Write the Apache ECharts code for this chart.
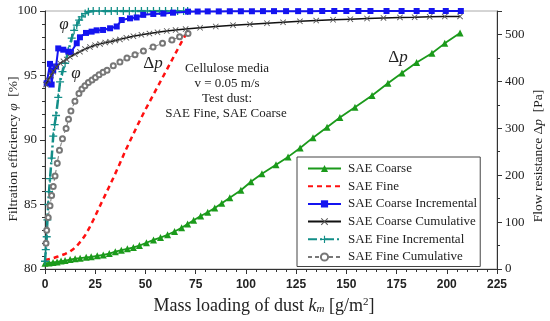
<!DOCTYPE html>
<html><head><meta charset="utf-8">
<script src="https://cdn.jsdelivr.net/npm/echarts@6/dist/echarts.min.js"></script>
<style>html,body{margin:0;padding:0;background:#fff}#c{width:550px;height:321px}</style>
</head><body><div id="c"></div>
<script>
// ---- data (k in g/m2) ----
const legendNames = ['SAE Coarse','SAE Fine','SAE Coarse Incremental','SAE Coarse Cumulative','SAE Fine Incremental','SAE Fine Cumulative'];
const xTickValues = [0,25,50,75,100,125,150,175,200,225];
const leftTickValues = [80,85,90,95,100];
const rightTickValues = [0,100,200,300,400,500];

// SAE Coarse: flow resistance Δp [Pa]
const coarseDp = [[0,12],[2,13],[4,14],[6,15],[8,17],[10,18],[12.5,20],[15,22],[17.5,23],[20.5,25],[23,26],[26,28],[29,30],[32,33],[35,37],[38,40],[41,43],[44,46],[47,50],[50.5,56],[54,62],[57.5,67],[61,73],[64.5,80],[68,88],[71,96],[74,104],[77.5,113],[81,121],[84.5,130],[88,140],[92,152],[97.5,168],[102.5,186],[108,203],[115,222],[121,239],[127,258],[133.4,280],[140.4,302],[146.8,323],[154.3,345],[162.8,370],[170.7,396],[177.7,418],[185,440],[192.6,460],[199,481],[206.6,503]];
// SAE Fine: flow resistance Δp [Pa]
const fineDp = [[0,19],[2,21],[4,23],[6,26],[8,29],[10,32],[12,36],[14,42],[16,50],[18,60],[20,72],[22,87],[24,104],[26,122],[28,140],[30,158],[32,176],[34,194],[36,213],[38,232],[40,252],[42,270],[44,288],[46,306],[48,323],[50,340],[52,356],[54,372],[56,388],[58,404],[60,420],[62,436],[64,452],[66,468],[68,484],[70,499],[71.3,506]];
// SAE Coarse incremental efficiency [%]
const coarseInc = [[0.85,94.4],[2.5,95.9],[3.3,94.3],[4.1,95.4],[5.5,95.7],[6.6,97.1],[9.1,97.0],[11.6,96.85],[12.9,96.8],[15.8,97.5],[17.4,97.96],[20.4,98.3],[23.2,98.4],[25.7,98.5],[28.9,98.53],[32.4,98.66],[35.7,98.8],[38.2,99.3],[42.3,99.43],[45.6,99.5],[48.9,99.7],[53.9,99.77],[58.9,99.8],[63.7,99.87],[71.2,99.95],[76,99.96],[81,99.97],[86.5,99.97],[92,99.98],[97.5,99.98],[103,99.98],[108.5,99.99],[114,99.99],[120,99.99],[126,99.99],[132,99.99],[138,100],[144,100],[150,100],[156,100],[162,100],[170,100],[177.5,100],[185,100],[192.5,100],[199.5,100],[207,100]];
// SAE Coarse cumulative efficiency [%]
const coarseCum = [[0.5,94.3],[1.6,94.65],[3,95.0],[4.1,95.3],[5.8,95.65],[7.5,95.95],[9.2,96.1],[10.8,96.25],[12.4,96.45],[14.9,96.65],[17.4,96.85],[19.9,97.05],[22.4,97.2],[24.9,97.35],[27.4,97.45],[30,97.55],[32.4,97.62],[35,97.72],[37.3,97.8],[40.5,97.92],[44,98.05],[48,98.15],[52,98.25],[56,98.35],[60.6,98.45],[65,98.52],[70,98.6],[77.2,98.7],[85,98.8],[93.6,98.9],[102,98.97],[110.5,99.05],[118.5,99.12],[126.9,99.2],[135,99.26],[143.4,99.32],[152,99.37],[160.3,99.42],[168.5,99.46],[176.7,99.5],[184,99.52],[191.5,99.55],[199,99.57],[206.6,99.58]];
// SAE Fine incremental efficiency [%]
const fineInc = [[0,80.6],[0.4,81.5],[0.85,82.5],[1.2,83.8],[1.6,85.0],[2.0,86.0],[2.5,87.0],[3.3,88.6],[4.1,90.3],[4.8,91.2],[5.5,91.9],[6.6,93.3],[7.5,94.5],[8.7,95.3],[10,95.95],[11.6,96.9],[13.3,97.9],[14.5,98.5],[15.8,98.9],[17,99.3],[18.3,99.55],[20,99.8],[21.6,99.95],[24,100],[27,100],[30,100],[33,100],[36,100],[39,100],[42,100],[45,100],[48,100],[51,100],[54,100],[57,100],[60,100],[63,100],[66,100],[69,100],[71,100]];
// SAE Fine cumulative efficiency [%]
const fineCum = [[0.5,82.0],[0.85,83.0],[1.6,84.0],[2.5,84.9],[3.3,85.7],[4.1,86.4],[5.0,87.2],[6.1,88.2],[7.2,89.2],[8.7,90.1],[10.5,90.9],[11.7,91.6],[12.9,92.25],[14.9,93.0],[16.9,93.6],[18.4,93.95],[19.9,94.2],[21.6,94.45],[23.4,94.65],[25.1,94.85],[26.9,95.05],[28.9,95.25],[30.9,95.4],[34,95.75],[37.3,96.05],[40.8,96.35],[44.8,96.6],[49,96.9],[53.8,97.2],[58.5,97.5],[63.2,97.75],[67,98.0],[71.2,98.25]];

const SERIF = '"Liberation Serif", "Times New Roman", serif';
const SANS = '"Liberation Sans", Arial, sans-serif';
const X_SYM = 'path://M0,1L1,0L5,4L9,0L10,1L6,5L10,9L9,10L5,6L1,10L0,9L4,5Z';
const PLUS_SYM = 'path://M4.2,0H5.8V4.2H10V5.8H5.8V10H4.2V5.8H0V4.2H4.2Z';

const chart = echarts.init(document.getElementById('c'), null, {renderer:'canvas'});
const axisCommon = {
  axisLine:{show:true, lineStyle:{color:'#333', width:1}},
  axisTick:{show:true, length:5, lineStyle:{color:'#333'}},
  splitLine:{show:false}
};
chart.setOption({
  animation:false,
  backgroundColor:'#fff',
  grid:{left:45, right:53, top:11, bottom:52, show:true, borderColor:'#aaa', borderWidth:1},
  xAxis:Object.assign({type:'value', min:xTickValues[0], max:xTickValues[xTickValues.length-1], interval:25,
    axisLabel:{fontFamily:SANS, fontWeight:'bold', fontSize:12, color:'#222', margin:10}}, axisCommon,
    {minorTick:{show:true, splitNumber:5, length:3, lineStyle:{color:'#333'}}}),
  yAxis:[
    Object.assign({type:'value', min:leftTickValues[0], max:leftTickValues[leftTickValues.length-1], interval:5,
      axisLabel:{fontFamily:SERIF, fontSize:13, color:'#222', margin:8}}, axisCommon,
      {minorTick:{show:true, splitNumber:5, length:3, lineStyle:{color:'#333'}}}),
    Object.assign({type:'value', position:'right', min:0, max:550, interval:100,
      axisLabel:{fontFamily:SERIF, fontSize:13, color:'#222', margin:8, formatter:v => rightTickValues.indexOf(v) >= 0 ? String(v) : ''}}, axisCommon,
      {minorTick:{show:true, splitNumber:2, length:3, lineStyle:{color:'#333'}}})
  ],
  legend:{
    orient:'vertical', left:297, top:157, data:legendNames,
    itemWidth:33, itemHeight:9, itemGap:4.7,
    padding:[5,3,3,10],
    borderColor:'#444', borderWidth:1, backgroundColor:'#fff',
    textStyle:{fontFamily:SERIF, fontSize:13, color:'#222', padding:[0,0,0,2]}
  },
  series:[
    {name:legendNames[0], type:'line', yAxisIndex:1, data:coarseDp, symbol:'triangle', symbolSize:7,
      lineStyle:{color:'#1b9a1b', width:1.8}, itemStyle:{color:'#1b9a1b'}, z:2},
    {name:legendNames[1], type:'line', yAxisIndex:1, data:fineDp, symbol:'circle', showSymbol:false, symbolSize:0,
      lineStyle:{color:'#ff1010', width:2.5, type:[5,4]}, itemStyle:{color:'rgba(0,0,0,0)'}, z:2},
    {name:legendNames[2], type:'line', yAxisIndex:0, data:coarseInc, symbol:'rect', symbolSize:6,
      lineStyle:{color:'#1414f0', width:2}, itemStyle:{color:'#1414f0'}, z:4},
    {name:legendNames[3], type:'line', yAxisIndex:0, data:coarseCum, symbol:X_SYM, symbolSize:6,
      lineStyle:{color:'#111', width:1.5}, itemStyle:{color:'#555'}, z:5},
    {name:legendNames[4], type:'line', yAxisIndex:0, data:fineInc, symbol:PLUS_SYM, symbolSize:8,
      lineStyle:{color:'#138e88', width:2.5, type:[9,3,2,3]}, itemStyle:{color:'#138e88'}, z:3},
    {name:legendNames[5], type:'line', yAxisIndex:0, data:fineCum, symbol:'emptyCircle', symbolSize:5,
      lineStyle:{color:'#777', width:1, type:[4,3]}, itemStyle:{color:'#777', borderColor:'#777', borderWidth:0.8}, z:3}
  ],
  graphic:[
    {type:'text', x:13, y:149, rotation:Math.PI/2, style:{text:'Filtration efficiency {i|φ}  [%]', fontFamily:SERIF, fontSize:13.5, fill:'#222', align:'center', verticalAlign:'middle',
      rich:{i:{fontStyle:'italic', fontFamily:SERIF, fontSize:13.5, fill:'#222'}}}},
    {type:'text', x:538, y:156, rotation:Math.PI/2, style:{text:'Flow resistance Δ{i|p}  [Pa]', fontFamily:SERIF, fontSize:13.5, fill:'#222', align:'center', verticalAlign:'middle',
      rich:{i:{fontStyle:'italic', fontFamily:SERIF, fontSize:13.5, fill:'#222'}}}},
    {type:'text', x:264, y:306, style:{text:'Mass loading of dust {k|k}{sub|m} [g/m{sup|2}]', fontFamily:SERIF, fontSize:18, fill:'#222', align:'center', verticalAlign:'middle',
      rich:{k:{fontStyle:'italic', fontFamily:SERIF, fontSize:18, fill:'#222'}, sub:{fontStyle:'italic', fontFamily:SERIF, fontSize:11, fill:'#222', verticalAlign:'bottom', padding:[6,0,0,0]}, sup:{fontFamily:SERIF, fontSize:11, fill:'#222', verticalAlign:'top', padding:[0,0,6,0]}}}},
    {type:'text', x:227, y:69, style:{text:'Cellulose media', fontFamily:SERIF, fontSize:13, fill:'#222', align:'center', verticalAlign:'middle'}},
    {type:'text', x:227, y:84, style:{text:'v = 0.05 m/s', fontFamily:SERIF, fontSize:13, fill:'#222', align:'center', verticalAlign:'middle'}},
    {type:'text', x:227, y:99, style:{text:'Test dust:', fontFamily:SERIF, fontSize:13, fill:'#222', align:'center', verticalAlign:'middle'}},
    {type:'text', x:226, y:114, style:{text:'SAE Fine, SAE Coarse', fontFamily:SERIF, fontSize:13, fill:'#222', align:'center', verticalAlign:'middle'}},
    {type:'text', x:64, y:25, style:{text:'φ', fontFamily:SERIF, fontStyle:'italic', fontSize:17, fill:'#222', align:'center', verticalAlign:'middle'}},
    {type:'text', x:76, y:74, style:{text:'φ', fontFamily:SERIF, fontStyle:'italic', fontSize:17, fill:'#222', align:'center', verticalAlign:'middle'}},
    {type:'text', x:153, y:64, style:{text:'Δ{i|p}', fontFamily:SERIF, fontSize:17, fill:'#222', align:'center', verticalAlign:'middle', rich:{i:{fontStyle:'italic', fontFamily:SERIF, fontSize:17, fill:'#222'}}}},
    {type:'text', x:398, y:58, style:{text:'Δ{i|p}', fontFamily:SERIF, fontSize:17, fill:'#222', align:'center', verticalAlign:'middle', rich:{i:{fontStyle:'italic', fontFamily:SERIF, fontSize:17, fill:'#222'}}}}
  ]
});
</script>
</body></html>
